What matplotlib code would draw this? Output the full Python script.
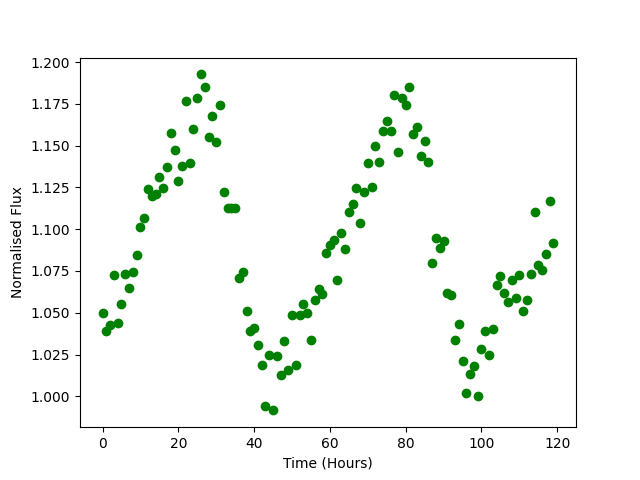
import numpy as np
import matplotlib
matplotlib.use('Agg')
import matplotlib.pyplot as plt

# time in hours, one reading per hour
time = list(range(120))

flux = [1.0500, 1.0393, 1.0425, 1.0725, 1.0441, 1.0555, 1.0733, 1.0651, 1.0745, 1.0843,
        1.1014, 1.1064, 1.1240, 1.1200, 1.1208, 1.1310, 1.1244, 1.1370, 1.1573, 1.1471,
        1.1291, 1.1381, 1.1765, 1.1393, 1.1597, 1.1783, 1.1926, 1.1849, 1.1549, 1.1675,
        1.1519, 1.1741, 1.1220, 1.1124, 1.1124, 1.1124, 1.0711, 1.0741, 1.0510, 1.0390,
        1.0410, 1.0305, 1.0190, 0.9940, 1.0246, 0.9916, 1.0240, 1.0126, 1.0330, 1.0156,
        1.0485, 1.0190, 1.0485, 1.0550, 1.0500, 1.0335, 1.0575, 1.0640, 1.0610, 1.0856,
        1.0905, 1.0934, 1.0695, 1.0980, 1.0880, 1.1100, 1.1150, 1.1245, 1.1036, 1.1220,
        1.1396, 1.1250, 1.1497, 1.1400, 1.1590, 1.1647, 1.1590, 1.1800, 1.1459, 1.1787,
        1.1741, 1.1849, 1.1571, 1.1611, 1.1437, 1.1525, 1.1400, 1.0795, 1.0946, 1.0885,
        1.0928, 1.0617, 1.0609, 1.0340, 1.0431, 1.0210, 1.0018, 1.0136, 1.0180, 1.0000,
        1.0281, 1.0389, 1.0246, 1.0405, 1.0665, 1.0719, 1.0621, 1.0565, 1.0699, 1.0591,
        1.0725, 1.0513, 1.0575, 1.0729, 1.1100, 1.0784, 1.0753, 1.0849, 1.1171, 1.0916]

plt.figure(figsize=(6.4, 4.8), dpi=100)
plt.plot(time, flux, 'o', color='green')
plt.xlabel('Time (Hours)')
plt.ylabel('Normalised Flux')
plt.savefig('out.png')
